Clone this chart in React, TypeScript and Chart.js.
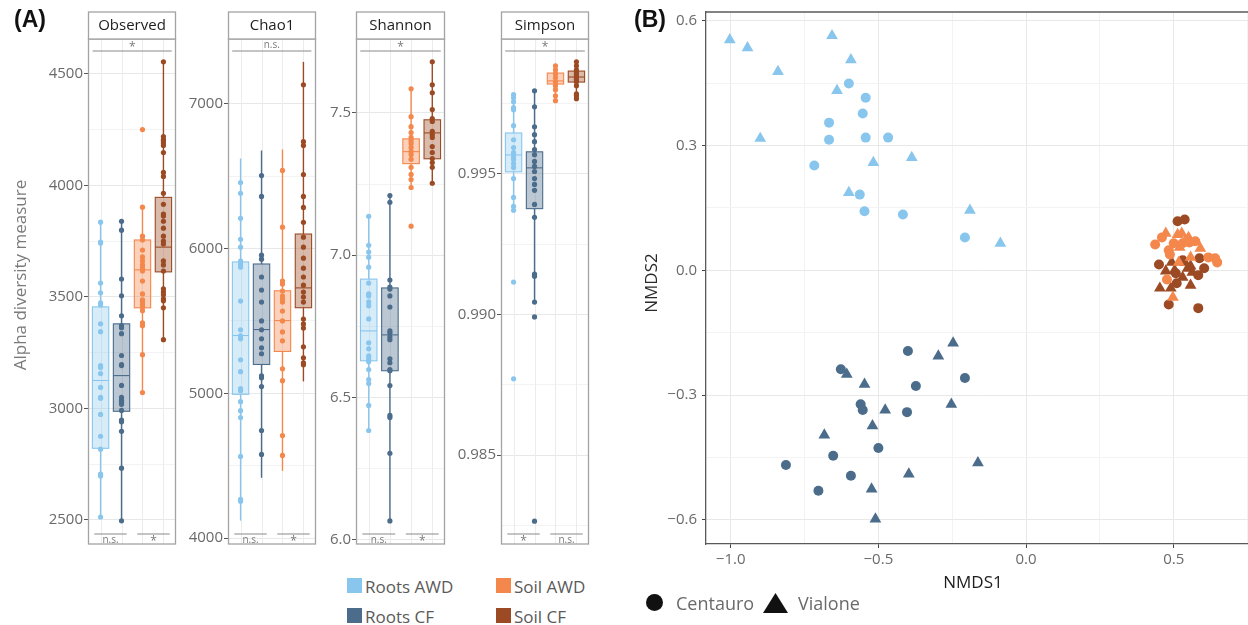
import React, { useEffect, useRef } from "react";
import { Chart, registerables } from "chart.js";
Chart.register(...registerables);

const FONT = "'Open Sans', 'DejaVu Sans', sans-serif";
const groupLabels = ["Roots AWD", "Roots CF", "Soil AWD", "Soil CF"];
const groupColors = ["#89c6ee", "#4b6c8b", "#f4874b", "#9c4a23"];
const groupFills = ["rgba(137,198,238,0.34)", "rgba(75,108,139,0.38)", "rgba(244,135,75,0.38)", "rgba(156,74,35,0.38)"];

// ---------- Panel A data ----------
const observedTicks = [2500, 3000, 3500, 4000, 4500];
const observedMinor = [2750, 3250, 3750, 4250];
const observedRootsAWD = [3835, 3746, 3741, 3562, 3518, 3473, 3464, 3379, 3344, 3192, 3183, 3156, 3094, 3049, 3045, 2973, 2875, 2817, 2705, 2697, 2513];
const observedRootsCF = [3839, 3799, 3580, 3505, 3415, 3371, 3362, 3335, 3237, 3196, 3192, 3103, 3049, 3036, 3027, 3018, 2991, 2947, 2940, 2897, 2732, 2496];
const observedSoilAWD = [4250, 3902, 3772, 3755, 3710, 3679, 3661, 3643, 3629, 3616, 3571, 3513, 3487, 3478, 3465, 3455, 3438, 3384, 3371, 3241, 3071];
const observedSoilCF = [4554, 4219, 4205, 4199, 4190, 4179, 4147, 4058, 4040, 3964, 3915, 3871, 3862, 3839, 3808, 3772, 3750, 3737, 3661, 3643, 3616, 3536, 3522, 3509, 3491, 3482, 3451, 3308];
const observedBoxes = [
  [2513, 2821, 3125, 3455, 3835],
  [2496, 2987, 3147, 3379, 3839],
  [3071, 3451, 3621, 3755, 3902],
  [3308, 3612, 3723, 3946, 4554],
];

const chao1Ticks = [4000, 5000, 6000, 7000];
const chao1Minor = [4500, 5500, 6500];
const chao1RootsAWD = [6456, 6381, 6209, 6064, 6009, 5913, 5892, 5871, 5637, 5438, 5397, 5376, 5231, 5149, 5032, 5018, 4942, 4880, 4832, 4564, 4268, 4254];
const chao1RootsCF = [6504, 6360, 5954, 5926, 5803, 5713, 5630, 5500, 5438, 5376, 5314, 5273, 5121, 5107, 5046, 4743, 4578];
const chao1SoilAWD = [6539, 6147, 5775, 5754, 5706, 5672, 5651, 5630, 5568, 5500, 5424, 5362, 5169, 5087, 4708, 4571];
const chao1SoilCF = [7131, 6738, 6711, 6511, 6360, 6284, 6181, 6078, 6009, 5933, 5864, 5803, 5747, 5699, 5665, 5630, 5513, 5479, 5451, 5321, 5245, 5211, 5197];
const chao1Boxes = [
  [4120, 4993, 5399, 5907, 6622],
  [4416, 5199, 5440, 5893, 6677],
  [4464, 5289, 5502, 5708, 6684],
  [5082, 5591, 5728, 6100, 7289],
];

const shannonTicks = [6.0, 6.5, 7.0, 7.5];
const shannonMinor = [6.25, 6.75, 7.25];
const shannonRootsAWD = [7.137, 7.035, 7.011, 6.993, 6.958, 6.902, 6.864, 6.857, 6.836, 6.822, 6.776, 6.692, 6.671, 6.646, 6.636, 6.626, 6.598, 6.563, 6.549, 6.472, 6.384];
const shannonRootsCF = [7.21, 7.186, 6.913, 6.888, 6.881, 6.857, 6.818, 6.734, 6.727, 6.713, 6.703, 6.636, 6.622, 6.598, 6.594, 6.542, 6.437, 6.43, 6.304, 6.066];
const shannonSoilAWD = [7.585, 7.487, 7.452, 7.431, 7.414, 7.403, 7.393, 7.379, 7.365, 7.354, 7.337, 7.309, 7.284, 7.266, 7.238, 7.102];
const shannonSoilCF = [7.68, 7.599, 7.571, 7.512, 7.48, 7.47, 7.435, 7.424, 7.414, 7.382, 7.361, 7.34, 7.326, 7.309, 7.253];
const shannonBoxes = [
  [6.384, 6.629, 6.734, 6.916, 7.137],
  [6.066, 6.594, 6.72, 6.885, 7.21],
  [7.238, 7.322, 7.364, 7.409, 7.585],
  [7.253, 7.339, 7.43, 7.476, 7.68],
];

const simpsonTicks = [0.985, 0.99, 0.995];
const simpsonMinor = [0.9825, 0.9875, 0.9925, 0.9975];
const simpsonRootsAWD = [0.99781, 0.9977, 0.99756, 0.99735, 0.99728, 0.99671, 0.99621, 0.99593, 0.99575, 0.99561, 0.99551, 0.99536, 0.99522, 0.99483, 0.99416, 0.99384, 0.9937, 0.99115, 0.98771];
const simpsonRootsCF = [0.99795, 0.99738, 0.99667, 0.99639, 0.99614, 0.99586, 0.99568, 0.99544, 0.99526, 0.99508, 0.99483, 0.99462, 0.99441, 0.99391, 0.99345, 0.99143, 0.99136, 0.99044, 0.98991, 0.98265];
const simpsonSoilAWD = [0.99884, 0.99869, 0.99855, 0.99841, 0.99827, 0.99813, 0.99799, 0.99777, 0.9976];
const simpsonSoilCF = [0.99898, 0.99884, 0.99869, 0.99862, 0.99855, 0.99848, 0.99841, 0.99834, 0.99827, 0.99813, 0.99784, 0.99777, 0.99767];
const simpsonBoxes = [
  [0.9937, 0.99507, 0.99567, 0.99645, 0.99781],
  [0.99044, 0.99376, 0.99521, 0.99578, 0.99795],
  [0.9976, 0.99819, 0.9983, 0.99858, 0.99884],
  [0.99767, 0.99826, 0.99844, 0.99865, 0.99898],
];

// ---------- Panel B data (NMDS1, NMDS2) ----------
const rootsAWDCentauro = [[-0.6, 0.449], [-0.543, 0.415], [-0.553, 0.377], [-0.667, 0.355], [-0.667, 0.314], [-0.543, 0.319], [-0.467, 0.319], [-0.717, 0.252], [-0.563, 0.182], [-0.547, 0.142], [-0.417, 0.134], [-0.207, 0.079]];
const rootsAWDVialone = [[-1.003, 0.554], [-0.943, 0.535], [-0.84, 0.478], [-0.657, 0.564], [-0.593, 0.506], [-0.64, 0.432], [-0.9, 0.317], [-0.517, 0.259], [-0.387, 0.271], [-0.6, 0.187], [-0.19, 0.144], [-0.087, 0.065]];
const rootsCFCentauro = [[-0.4, -0.194], [-0.627, -0.238], [-0.207, -0.259], [-0.373, -0.278], [-0.56, -0.322], [-0.553, -0.336], [-0.403, -0.341], [-0.5, -0.427], [-0.653, -0.446], [-0.813, -0.468], [-0.593, -0.494], [-0.703, -0.53]];
const rootsCFVialone = [[-0.247, -0.175], [-0.297, -0.206], [-0.607, -0.25], [-0.547, -0.274], [-0.253, -0.322], [-0.477, -0.336], [-0.52, -0.374], [-0.683, -0.396], [-0.163, -0.463], [-0.397, -0.49], [-0.523, -0.526], [-0.51, -0.598]];
const soilAWDCentauro = [[0.437, 0.062], [0.46, 0.079], [0.5, 0.065], [0.483, 0.048], [0.487, 0.038], [0.53, 0.065], [0.573, 0.07], [0.617, 0.031], [0.64, 0.029], [0.647, 0.019], [0.477, -0.022], [0.553, 0.067]];
const soilAWDVialone = [[0.473, 0.089], [0.513, 0.086], [0.527, 0.089], [0.55, 0.079], [0.52, 0.055], [0.59, 0.053], [0.557, 0.031], [0.517, 0.019], [0.497, -0.065], [0.54, 0.072]];
const soilCFCentauro = [[0.513, 0.118], [0.537, 0.122], [0.45, 0.014], [0.587, 0.029], [0.583, -0.012], [0.51, -0.031], [0.483, -0.082], [0.583, -0.091], [0.507, -0.007], [0.53, 0.024], [0.603, 0.005]];
const soilCFVialone = [[0.473, -0.002], [0.493, 0.019], [0.503, 0], [0.537, 0.019], [0.557, 0.01], [0.563, -0.005], [0.53, -0.017], [0.453, -0.043], [0.49, -0.043], [0.557, -0.036], [0.547, 0.005]];
const nmdsXTicks = [-1.0, -0.5, 0.0, 0.5];
const nmdsXMinor = [-0.75, -0.25, 0.25, 0.75];
const nmdsYTicks = [-0.6, -0.3, 0.0, 0.3, 0.6];
const nmdsYMinor = [-0.45, -0.15, 0.15, 0.45];

type FacetCfg = {
  title: string; left: number; width: number; min: number; max: number;
  majors: number[]; minors: number[]; fmt: (v: number) => string;
  series: number[][]; boxes: number[][]; topSig: string; topRange: number[]; bottomSig: string[];
};

const facets: FacetCfg[] = [
  { title: "Observed", left: 88, width: 90, min: 2392, max: 4656, majors: observedTicks, minors: observedMinor, fmt: (v) => String(v),
    series: [observedRootsAWD, observedRootsCF, observedSoilAWD, observedSoilCF], boxes: observedBoxes, topSig: "*", topRange: [0.62, 4.4], bottomSig: ["n.s.", "*"] },
  { title: "Chao1", left: 228, width: 90, min: 3959, max: 7447, majors: chao1Ticks, minors: chao1Minor, fmt: (v) => String(v),
    series: [chao1RootsAWD, chao1RootsCF, chao1SoilAWD, chao1SoilCF], boxes: chao1Boxes, topSig: "n.s.", topRange: [0.6, 4.38], bottomSig: ["n.s.", "*"] },
  { title: "Shannon", left: 356, width: 91, min: 5.985, max: 7.76, majors: shannonTicks, minors: shannonMinor, fmt: (v) => v.toFixed(1),
    series: [shannonRootsAWD, shannonRootsCF, shannonSoilAWD, shannonSoilCF], boxes: shannonBoxes, topSig: "*", topRange: [0.6, 4.4], bottomSig: ["n.s.", "*"] },
  { title: "Simpson", left: 501, width: 90, min: 0.981838, max: 0.999791, majors: simpsonTicks, minors: simpsonMinor, fmt: (v) => v.toFixed(3),
    series: [simpsonRootsAWD, simpsonRootsCF, simpsonSoilAWD, simpsonSoilCF], boxes: simpsonBoxes, topSig: "*", topRange: [0.6, 4.4], bottomSig: ["*", "n.s."] },
];

const near = (arr: number[], v: number) => arr.some((t) => Math.abs(t - v) < 1e-9);

function line(ctx: CanvasRenderingContext2D, x1: number, y1: number, x2: number, y2: number) {
  ctx.beginPath(); ctx.moveTo(x1, y1); ctx.lineTo(x2, y2); ctx.stroke();
}

const AXW = 48;
const FACET_TOP = 10;
const AREA_TOP = 39;
const AREA_BOTTOM = 546;

function Facet({ cfg }: { cfg: FacetCfg }) {
  const ref = useRef<HTMLCanvasElement>(null);
  const w = AXW + cfg.width + 2;
  const h = AREA_BOTTOM - FACET_TOP + 2;
  useEffect(() => {
    const deco = {
      id: "facetDeco",
      beforeDatasetsDraw(chart: any) {
        const { ctx, chartArea: a, scales } = chart;
        const x = scales.x, y = scales.y;
        ctx.save();
        ctx.strokeStyle = "#ececec"; ctx.lineWidth = 1;
        for (let i = 1; i <= 4; i++) {
          const px = Math.round(x.getPixelForValue(i)) + 0.5;
          line(ctx, px, a.top, px, a.bottom);
        }
        cfg.boxes.forEach((b, i) => {
          const cx = x.getPixelForValue(i + 1);
          const hw = x.getPixelForValue(i + 1.39) - cx;
          const [lo, q1, med, q3, hi] = b.map((v) => y.getPixelForValue(v));
          ctx.strokeStyle = groupColors[i]; ctx.lineWidth = 1.4;
          line(ctx, cx, hi, cx, q3); line(ctx, cx, q1, cx, lo);
          ctx.fillStyle = groupFills[i];
          ctx.fillRect(cx - hw, q3, 2 * hw, q1 - q3);
          ctx.lineWidth = 1.1;
          ctx.strokeRect(cx - hw, q3, 2 * hw, q1 - q3);
          line(ctx, cx - hw, med, cx + hw, med);
        });
        ctx.restore();
      },
      afterDraw(chart: any) {
        const { ctx, chartArea: a, scales } = chart;
        const x = scales.x;
        ctx.save();
        ctx.strokeStyle = "#a3a3a3"; ctx.lineWidth = 1.3;
        ctx.strokeRect(a.left + 0.5, a.top, a.right - a.left - 1, a.bottom - a.top);
        ctx.fillStyle = "#ffffff";
        ctx.fillRect(a.left + 0.5, a.top - 27, a.right - a.left - 1, 27);
        ctx.strokeRect(a.left + 0.5, a.top - 27, a.right - a.left - 1, 27);
        ctx.fillStyle = "#1e1e1e"; ctx.font = `15px ${FONT}`;
        ctx.textAlign = "center"; ctx.textBaseline = "middle";
        ctx.fillText(cfg.title, (a.left + a.right) / 2, a.top - 13);
        // significance brackets
        ctx.strokeStyle = "#8a8a8a"; ctx.lineWidth = 1.2;
        const ty = a.top + 12;
        const tx1 = x.getPixelForValue(cfg.topRange[0]), tx2 = x.getPixelForValue(cfg.topRange[1]);
        line(ctx, tx1, ty, tx2, ty);
        ctx.fillStyle = "#7a7a7a";
        ctx.font = `${cfg.topSig === "*" ? 12 : 10}px ${FONT}`;
        ctx.fillText(cfg.topSig, (tx1 + tx2) / 2, cfg.topSig === "*" ? ty - 3 : ty - 6);
        const by = a.bottom - 10;
        const ranges = [[0.7, 2.25], [2.75, 4.3]];
        ranges.forEach((r, k) => {
          const bx1 = x.getPixelForValue(r[0]), bx2 = x.getPixelForValue(r[1]);
          line(ctx, bx1, by, bx2, by);
          const s = cfg.bottomSig[k];
          ctx.font = `${s === "*" ? 12 : 10}px ${FONT}`;
          ctx.fillText(s, (bx1 + bx2) / 2, s === "*" ? by + 8 : by + 6);
        });
        ctx.restore();
      },
    };
    const chart = new Chart(ref.current as HTMLCanvasElement, {
      type: "scatter",
      data: {
        datasets: cfg.series.map((vals, i) => ({
          label: groupLabels[i],
          data: vals.map((v) => ({ x: i + 1, y: v })),
          backgroundColor: groupColors[i],
          borderColor: groupColors[i],
          borderWidth: 0,
          pointRadius: 2.6,
        })),
      },
      options: {
        animation: false,
        responsive: false,
        maintainAspectRatio: false,
        layout: { padding: { left: 0, right: 2, top: AREA_TOP - FACET_TOP, bottom: 2 } },
        plugins: { legend: { display: false }, tooltip: { enabled: false } },
        scales: {
          x: { type: "linear", min: 0.4, max: 4.6, display: false },
          y: {
            type: "linear", min: cfg.min, max: cfg.max,
            afterBuildTicks: (s: any) => {
              s.ticks = [...cfg.majors, ...cfg.minors].sort((p, q) => p - q).map((v) => ({ value: v }));
            },
            afterFit: (s: any) => { s.width = AXW; s.paddingTop = 0; s.paddingBottom = 0; },
            ticks: {
              autoSkip: false,
              padding: 1,
              color: "#6a6a6a",
              font: { family: FONT, size: 15 },
              callback: (v: any) => (near(cfg.majors, Number(v)) ? cfg.fmt(Number(v)) : ""),
            },
            grid: {
              color: (c: any) => (c.tick && near(cfg.majors, c.tick.value) ? "#e8e8e8" : "#f3f3f3"),
              tickColor: (c: any) => (c.tick && near(cfg.majors, c.tick.value) ? "#555555" : "rgba(0,0,0,0)"),
              tickLength: 4,
              lineWidth: 1,
            },
            border: { display: false },
          },
        },
      },
      plugins: [deco],
    } as any);
    return () => chart.destroy();
  }, []);
  return (
    <canvas ref={ref} width={w} height={h}
      style={{ position: "absolute", left: cfg.left - AXW, top: FACET_TOP, width: w, height: h }} />
  );
}

const nmdsSeries = [
  { pts: rootsAWDCentauro, g: 0, shape: "circle" },
  { pts: rootsAWDVialone, g: 0, shape: "triangle" },
  { pts: rootsCFCentauro, g: 1, shape: "circle" },
  { pts: rootsCFVialone, g: 1, shape: "triangle" },
  { pts: soilAWDCentauro, g: 2, shape: "circle" },
  { pts: soilAWDVialone, g: 2, shape: "triangle" },
  { pts: soilCFCentauro, g: 3, shape: "circle" },
  { pts: soilCFVialone, g: 3, shape: "triangle" },
];

const fmtSigned = (v: number) => (Math.abs(v) < 1e-9 ? "0.0" : (v < 0 ? "\u2212" : "") + Math.abs(v).toFixed(1));

function Nmds() {
  const ref = useRef<HTMLCanvasElement>(null);
  useEffect(() => {
    const frame = {
      id: "frame",
      afterDraw(chart: any) {
        const { ctx, chartArea: a } = chart;
        ctx.save();
        ctx.strokeStyle = "#5a5a5a"; ctx.lineWidth = 1.3;
        line(ctx, a.left, a.top, a.right, a.top);
        ctx.restore();
      },
    };
    const chart = new Chart(ref.current as HTMLCanvasElement, {
      type: "scatter",
      data: {
        datasets: nmdsSeries.map((s) => ({
          data: s.pts.map(([x, y]) => ({ x, y })),
          pointStyle: s.shape,
          pointRadius: s.shape === "circle" ? 5 : 6.8,
          backgroundColor: groupColors[s.g],
          borderColor: groupColors[s.g],
          borderWidth: 0,
        })),
      },
      options: {
        animation: false,
        responsive: false,
        maintainAspectRatio: false,
        layout: { padding: { left: 0, right: 0, top: 12, bottom: 51 } },
        plugins: { legend: { display: false }, tooltip: { enabled: false } },
        scales: {
          x: {
            type: "linear", min: -1.0836, max: 0.769,
            afterBuildTicks: (s: any) => {
              s.ticks = [...nmdsXTicks, ...nmdsXMinor].sort((p, q) => p - q).map((v) => ({ value: v }));
            },
            afterFit: (s: any) => { s.height = 30; s.paddingLeft = 0; s.paddingRight = 0; },
            ticks: {
              autoSkip: false, maxRotation: 0, padding: 3, color: "#6a6a6a",
              font: { family: FONT, size: 15 },
              callback: (v: any) => (near(nmdsXTicks, Number(v)) ? fmtSigned(Number(v)) : ""),
            },
            grid: {
              color: (c: any) => (c.tick && near(nmdsXTicks, c.tick.value) ? "#e8e8e8" : "#f3f3f3"),
              tickColor: (c: any) => (c.tick && near(nmdsXTicks, c.tick.value) ? "#444444" : "rgba(0,0,0,0)"),
              tickLength: 4,
            },
            border: { display: true, color: "#5a5a5a", width: 1.3 },
          },
          y: {
            type: "linear", min: -0.658, max: 0.621,
            afterBuildTicks: (s: any) => {
              s.ticks = [...nmdsYTicks, ...nmdsYMinor].sort((p, q) => p - q).map((v) => ({ value: v }));
            },
            afterFit: (s: any) => { s.width = 86; s.paddingTop = 0; s.paddingBottom = 0; },
            ticks: {
              autoSkip: false, padding: 5, color: "#6a6a6a",
              font: { family: FONT, size: 15 },
              callback: (v: any) => (near(nmdsYTicks, Number(v)) ? fmtSigned(Number(v)) : ""),
            },
            grid: {
              color: (c: any) => (c.tick && near(nmdsYTicks, c.tick.value) ? "#e8e8e8" : "#f3f3f3"),
              tickColor: (c: any) => (c.tick && near(nmdsYTicks, c.tick.value) ? "#444444" : "rgba(0,0,0,0)"),
              tickLength: 4,
            },
            border: { display: true, color: "#5a5a5a", width: 1.3 },
          },
        },
      },
      plugins: [frame],
    } as any);
    return () => chart.destroy();
  }, []);
  return <canvas ref={ref} width={640} height={625} style={{ position: "absolute", left: 620, top: 0, width: 640, height: 625 }} />;
}

const abs = (left: number, top: number, extra: React.CSSProperties = {}): React.CSSProperties => ({
  position: "absolute", left, top, whiteSpace: "nowrap", fontFamily: FONT, ...extra,
});

export default function App() {
  const legendA = [
    { label: groupLabels[0], color: groupColors[0], x: 347, y: 578 },
    { label: groupLabels[2], color: groupColors[2], x: 496, y: 578 },
    { label: groupLabels[1], color: groupColors[1], x: 347, y: 608 },
    { label: groupLabels[3], color: groupColors[3], x: 496, y: 608 },
  ];
  return (
    <div style={{ position: "absolute", left: 0, top: 0, width: 1248, height: 625, overflow: "hidden", background: "#fff" }}>
      {facets.map((f) => <Facet key={f.title} cfg={f} />)}
      <Nmds />
      <div style={abs(14, 6, { fontFamily: "'Liberation Sans', Arial, sans-serif", fontWeight: 700, fontSize: 23, color: "#111" })}>(A)</div>
      <div style={abs(634, 6, { fontFamily: "'Liberation Sans', Arial, sans-serif", fontWeight: 700, fontSize: 23, color: "#111" })}>(B)</div>
      <div style={abs(19, 275, { fontSize: 17, color: "#7a7a7a", transform: "translate(-50%, -50%) rotate(-90deg)" })}>Alpha diversity measure</div>
      <div style={abs(650, 283, { fontSize: 17, color: "#2a2a2a", transform: "translate(-50%, -50%) rotate(-90deg)" })}>NMDS2</div>
      <div style={abs(973, 581, { fontSize: 17, color: "#1e1e1e", transform: "translate(-50%, -50%)" })}>NMDS1</div>
      {legendA.map((l) => (
        <React.Fragment key={l.label}>
          <div style={abs(l.x, l.y, { width: 15, height: 15, background: l.color })} />
          <div style={abs(l.x + 18, l.y + 7.5, { fontSize: 17, color: "#5a5a5a", transform: "translateY(-50%)" })}>{l.label}</div>
        </React.Fragment>
      ))}
      <div style={abs(646, 594, { width: 17, height: 17, borderRadius: "50%", background: "#111" })} />
      <div style={abs(676, 603, { fontSize: 18, color: "#6a6a6a", transform: "translateY(-50%)" })}>Centauro</div>
      <svg style={{ position: "absolute", left: 762, top: 591 }} width={27} height={24}>
        <polygon points="13.5,2 26,22 1,22" fill="#111" />
      </svg>
      <div style={abs(798, 603, { fontSize: 18, color: "#6a6a6a", transform: "translateY(-50%)" })}>Vialone</div>
    </div>
  );
}
